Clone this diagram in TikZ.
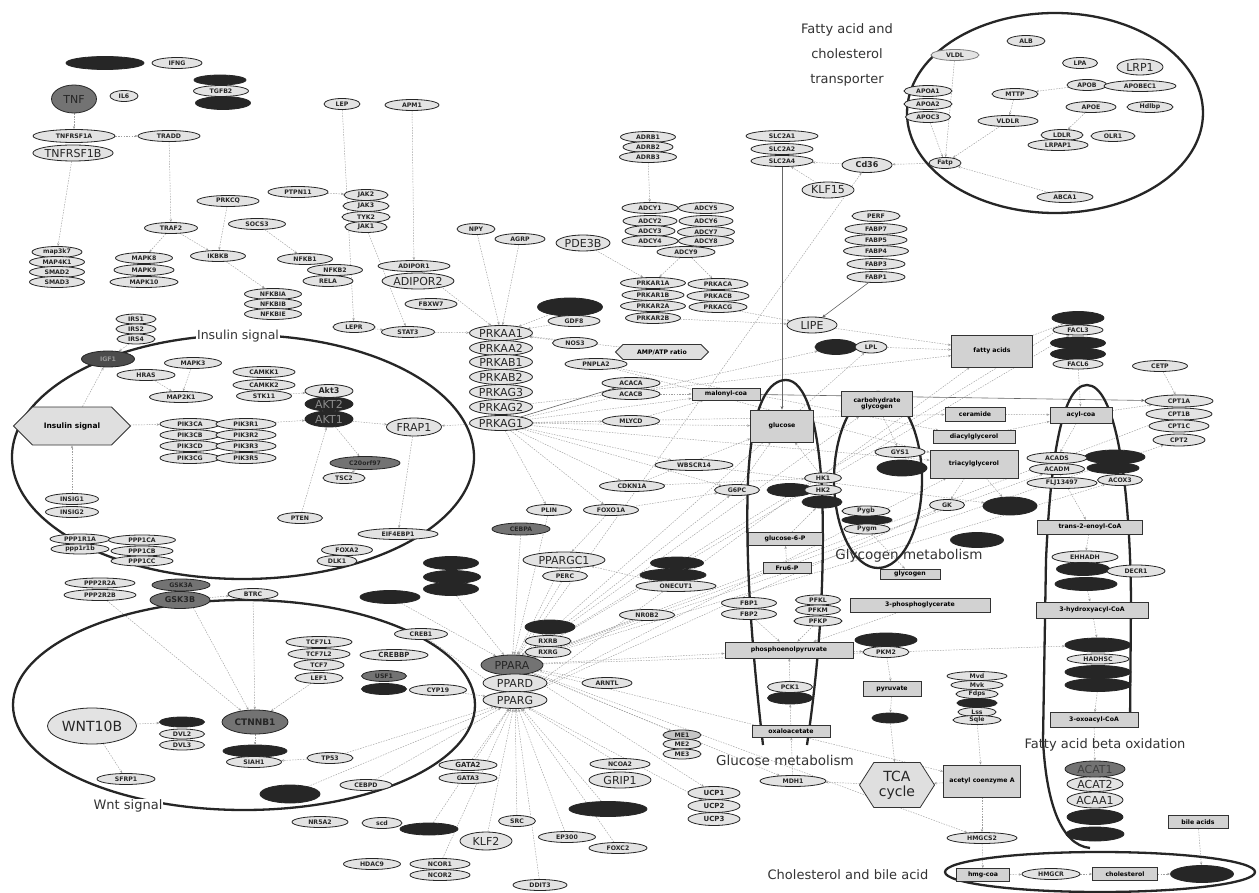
\documentclass[tikz,border=0pt]{standalone}
\usepackage{fontspec}
\setmainfont{DejaVu Sans}
\usetikzlibrary{shapes.geometric,shapes.symbols,arrows.meta}
\pgfdeclarelayer{background}
\pgfsetlayers{background,main}
\newcommand{\genefont}{\fontsize{6.2}{6.5}\selectfont\bfseries}
\newcommand{\bigfont}{\fontsize{11}{12}\selectfont}
\tikzset{
  gene/.style={ellipse, draw=black!85, line width=0.8pt, fill=gray!22, inner sep=0pt, minimum height=11pt, font=\genefont, text=black!85},
  bgene/.style={gene, minimum height=16pt, font=\bigfont},
  dgene/.style={gene, fill=black!85},
  mgene/.style={gene, fill=black!55},
  metab/.style={rectangle, draw=black!80, line width=0.8pt, fill=gray!35, inner sep=1pt, font=\genefont, align=center},
  hexa/.style={signal, signal to=east and west, draw=black!80, fill=gray!25, line width=0.8pt, inner sep=1pt}
}
\begin{document}
\begin{tikzpicture}[x=1pt, y=-1pt,
  link/.style={draw=gray!75, line width=0.45pt, dash pattern=on 1.5pt off 1.2pt, -{Stealth[length=3pt,width=2.4pt]}},
  slink/.style={draw=black!60, line width=0.6pt, -{Stealth[length=3.5pt,width=3pt]}},
  region/.style={draw=black!85, line width=2.3pt},
  rlabel/.style={font=\fontsize{13}{15}\selectfont, text=black!80, inner sep=1pt}
]
\useasboundingbox (0,0) rectangle (1259,893);

% cytokine and TNF part
\node[dgene, minimum width=78, minimum height=13] (dtop) at (105,63) {};
\node[gene, minimum width=50] (IFNG) at (177,63) {IFNG};
\node[mgene, minimum width=45, minimum height=28, font=\bigfont] (TNF) at (74,99) {TNF};
\node[gene, minimum width=28] (IL6) at (124,96) {IL6};
\node[dgene, minimum width=52, minimum height=10] (dtgfa) at (220,80) {};
\node[dgene, minimum width=55, minimum height=13] (dtgfb) at (223,103) {};
\node[gene, minimum width=55] (TGFB2) at (221,91) {TGFB2};
\node[gene, minimum width=82, minimum height=13] (TNFRSF1A) at (74,136) {TNFRSF1A};
\node[bgene, minimum width=80] (TNFRSF1B) at (73,153) {TNFRSF1B};
\node[gene, minimum width=62] (TRADD) at (169,136) {TRADD};
\node[gene, minimum width=60] (PTPN11) at (298,192) {PTPN11};
\node[gene, minimum width=62] (PRKCQ) at (228,201) {PRKCQ};
\node[gene, minimum width=57] (SOCS3) at (257,224) {SOCS3};
\node[gene, minimum width=53] (TRAF2) at (171,228) {TRAF2};
\node[gene, minimum width=55] (IKBKB) at (218,256) {IKBKB};
\node[gene, minimum width=55] (NFKB1) at (305,259) {NFKB1};
\node[gene, minimum width=55] (NFKB2) at (335,270) {NFKB2};
\node[gene, minimum width=50] (RELA) at (328,281) {RELA};
\foreach \n/\y/\w in {map3k7/252/50, MAP4K1/262/55, SMAD2/272/55, SMAD3/282/55}
  \node[gene, minimum width=\w] (\n) at (57,\y) {\n};
\foreach \n/\y/\w in {MAPK8/258/57, MAPK9/270/60, MAPK10/282/68}
  \node[gene, minimum width=\w] (\n) at (144,\y) {\n};
\foreach \n/\y in {NFKBIA/294, NFKBIB/304, NFKBIE/314}
  \node[gene, minimum width=57] (\n) at (273,\y) {\n};

% adipokines, receptors
\node[gene, minimum width=36] (LEP) at (342,104) {LEP};
\node[gene, minimum width=54] (APM1) at (412,105) {APM1};
\foreach \n/\y/\w in {JAK2/195/44, JAK3/206/46, TYK2/217/48, JAK1/227/42}
  \node[gene, minimum width=\w] (\n) at (366,\y) {\n};
\node[gene, minimum width=38] (NPY) at (476,229) {NPY};
\node[gene, minimum width=50] (AGRP) at (520,239) {AGRP};
\node[bgene, minimum width=54] (PDE3B) at (583,243) {PDE3B};
\node[gene, minimum width=72] (ADIPOR1) at (414,266) {ADIPOR1};
\node[bgene, minimum width=72] (ADIPOR2) at (418,281) {ADIPOR2};
\foreach \n/\y/\w in {ADRB1/137/55, ADRB2/147/50, ADRB3/157/57}
  \node[gene, minimum width=\w] (\n) at (648,\y) {\n};
\foreach \n/\y/\w in {SLC2A1/136/72, SLC2A2/149/62, SLC2A4/161/62}
  \node[gene, minimum width=\w] (\n) at (782,\y) {\n};
\node[gene, minimum width=50, minimum height=15, font=\fontsize{8}{8}\selectfont\bfseries] (Cd36) at (867,165) {Cd36};
\node[bgene, minimum width=52] (KLF15) at (828,190) {KLF15};
\node[gene, minimum width=32] (Fatp) at (945,163) {Fatp};
\foreach \n/\y/\w in {ADCY1/208/56, ADCY2/221/54, ADCY3/231/50, ADCY4/241/56}
  \node[gene, minimum width=\w] (\n) at (650,\y) {\n};
\foreach \n/\y/\w in {ADCY5/208/55, ADCY6/221/54, ADCY7/232/57, ADCY8/241/55}
  \node[gene, minimum width=\w] (\n) at (706,\y) {\n};
\node[gene, minimum width=58] (ADCY9) at (686,252) {ADCY9};
\foreach \n/\y/\w in {PRKAR1A/283/65, PRKAR1B/295/62, PRKAR2A/306/65, PRKAR2B/318/55}
  \node[gene, minimum width=\w] (\n) at (653,\y) {\n};
\foreach \n/\y/\w in {PRKACA/284/60, PRKACB/296/62, PRKACG/307/58}
  \node[gene, minimum width=\w] (\n) at (718,\y) {\n};
\foreach \n/\y/\w in {PERF/216/48, FABP7/229/62, FABP5/240/62, FABP4/251/65, FABP3/264/58, FABP1/277/58}
  \node[gene, minimum width=\w] (\n) at (876,\y) {\n};

% fatty acid and cholesterol transporter
\node[rlabel, align=center, font=\fontsize{13}{25}\selectfont] (ftlabel) at (847,55) {Fatty acid and\\cholesterol\\transporter};
\foreach \n/\y/\w in {APOA1/91/48, APOA2/104/48, APOC3/117/45}
  \node[gene, minimum width=\w] (\n) at (928,\y) {\n};
\node[gene, minimum width=48, draw=black!50] (VLDL) at (955,55) {VLDL};
\node[gene, minimum width=38] (ALB) at (1026,41) {ALB};
\node[gene, minimum width=35] (LPA) at (1080,63) {LPA};
\node[bgene, minimum width=46] (LRP1) at (1140,67) {LRP1};
\node[gene, minimum width=40] (APOB) at (1087,85) {APOB};
\node[gene, minimum width=72] (APOBEC1) at (1140,86) {APOBEC1};
\node[gene, minimum width=46] (MTTP) at (1015,94) {MTTP};
\node[gene, minimum width=50] (APOE) at (1091,107) {APOE};
\node[gene, minimum width=46] (Hdlbp) at (1150,107) {Hdlbp};
\node[gene, minimum width=60] (VLDLR) at (1008,121) {VLDLR};
\node[gene, minimum width=42] (LDLR) at (1062,135) {LDLR};
\node[gene, minimum width=60] (LRPAP1) at (1058,145) {LRPAP1};
\node[gene, minimum width=44] (OLR1) at (1113,136) {OLR1};
\node[gene, minimum width=56] (ABCA1) at (1065,197) {ABCA1};

% insulin signal
\node[rlabel, fill=white, font=\fontsize{12.5}{14}\selectfont] (inslabel) at (238,336) {Insulin signal};
\foreach \n/\y/\w in {IRS1/319/40, IRS2/329/40, IRS4/339/38}
  \node[gene, minimum width=\w, minimum height=10] (\n) at (136,\y) {\n};
\node[gene, fill=black!70, minimum width=53, minimum height=16, text=black!40] (IGF1) at (108,359) {IGF1};
\node[gene, minimum width=57] (MAPK3) at (193,363) {MAPK3};
\node[gene, minimum width=58] (HRAS) at (146,375) {HRAS};
\node[gene, minimum width=63] (MAP2K1) at (181,397) {MAP2K1};
\foreach \n/\y/\w in {CAMKK1/372/62, CAMKK2/385/62, STK11/396/55}
  \node[gene, minimum width=\w] (\n) at (264,\y) {\n};
\node[hexa, minimum width=117, minimum height=38, font=\fontsize{7.5}{8}\selectfont\bfseries] (insulin) at (72,426) {Insulin signal};
\foreach \n/\y in {PIK3CA/424, PIK3CB/435, PIK3CD/446, PIK3CG/458}
  \node[gene, minimum width=60] (\n) at (190,\y) {\n};
\foreach \n/\y in {PIK3R1/424, PIK3R2/435, PIK3R3/446, PIK3R5/458}
  \node[gene, minimum width=60] (\n) at (246,\y) {\n};
\node[dgene, minimum width=48, minimum height=16, font=\bigfont, text=black!45] (akt1) at (329,419) {AKT1};
\node[dgene, minimum width=48, minimum height=14, font=\bigfont, text=black!45] (akt2) at (329,404) {AKT2};
\node[gene, minimum width=48, minimum height=13, font=\fontsize{8}{8}\selectfont\bfseries] (Akt3) at (329,391) {Akt3};
\node[bgene, minimum width=55, minimum height=18] (FRAP1) at (414,427) {FRAP1};
\node[mgene, minimum width=70, minimum height=13] (C20orf97) at (365,463) {C20orf97};
\node[gene, minimum width=42] (TSC2) at (344,478) {TSC2};
\node[gene, minimum width=53] (INSIG1) at (72,499) {INSIG1};
\node[gene, minimum width=53] (INSIG2) at (72,512) {INSIG2};
\node[gene, minimum width=60, minimum height=10] (PPP1R1A) at (80,539) {PPP1R1A};
\node[gene, minimum width=58, minimum height=10] (ppp1r1b) at (80,549) {ppp1r1b};
\foreach \n/\y/\w in {PPP1CA/540/67, PPP1CB/551/62, PPP1CC/561/62}
  \node[gene, minimum width=\w, minimum height=10] (\n) at (142,\y) {\n};
\node[gene, minimum width=45] (PTEN) at (300,518) {PTEN};
\node[gene, minimum width=80] (EIF4EBP1) at (398,534) {EIF4EBP1};
\node[gene, minimum width=51] (FOXA2) at (347,550) {FOXA2};
\node[gene, minimum width=40] (DLK1) at (337,561) {DLK1};
\node[dgene, minimum width=55, minimum height=13] (dst1) at (451,563) {};
\node[dgene, minimum width=57, minimum height=13] (dst2) at (452,577) {};
\node[dgene, minimum width=55, minimum height=13] (dst3) at (451,589) {};
\node[gene, minimum width=70, minimum height=10] (PPP2R2A) at (100,583) {PPP2R2A};
\node[gene, minimum width=72, minimum height=11] (PPP2R2B) at (100,595) {PPP2R2B};
\node[mgene, minimum width=58, minimum height=12] (GSK3A) at (181,585) {GSK3A};
\node[mgene, minimum width=60, minimum height=17, font=\fontsize{8}{8}\selectfont\bfseries] (GSK3B) at (180,600) {GSK3B};
\node[gene, minimum width=50] (BTRC) at (253,594) {BTRC};
\node[dgene, minimum width=60, minimum height=13] (dwnt) at (390,597) {};

% wnt signal
\node[rlabel, fill=white] (wntlabel) at (128,806) {Wnt signal};
\foreach \n/\y/\w in {TCF7L1/642/66, TCF7L2/654/62, TCF7/665/50, LEF1/678/48}
  \node[gene, minimum width=\w] (\n) at (319,\y) {\n};
\node[gene, minimum width=53] (CREB1) at (421,634) {CREB1};
\node[gene, minimum width=68, font=\fontsize{7}{7}\selectfont\bfseries] (CREBBP) at (394,655) {CREBBP};
\node[dgene, minimum width=45] (dusf) at (384,689) {};
\node[mgene, minimum width=45] (USF1) at (384,676) {USF1};
\node[gene, minimum width=57] (CYP19) at (438,690) {CYP19};
\node[mgene, minimum width=66, minimum height=24, font=\fontsize{9}{9}\selectfont\bfseries] (CTNNB1) at (255,722) {CTNNB1};
\node[dgene, minimum width=64, minimum height=12] (dsiah) at (255,751) {};
\node[gene, minimum width=55] (SIAH1) at (254,762) {SIAH1};
\node[gene, minimum width=89, minimum height=36, font=\fontsize{14}{15}\selectfont] (WNT10B) at (92,726) {WNT10B};
\node[dgene, minimum width=45, minimum height=10] (dvl1) at (182,722) {};
\node[gene, minimum width=45, minimum height=10] (DVL2) at (182,734) {DVL2};
\node[gene, minimum width=45, minimum height=10] (DVL3) at (182,745) {DVL3};
\node[gene, minimum width=58] (SFRP1) at (126,779) {SFRP1};
\node[gene, minimum width=46] (TP53) at (330,758) {TP53};
\node[dgene, minimum width=60, minimum height=18] (dtp) at (290,794) {};
\node[gene, minimum width=56] (NR5A2) at (320,822) {NR5A2};
\node[gene, minimum width=52] (CEBPD) at (366,785) {CEBPD};
\node[gene, minimum width=40] (scd) at (382,823) {scd};
\node[dgene, minimum width=58, minimum height=12] (dscd) at (429,829) {};
\node[gene, minimum width=57] (HDAC9) at (372,864) {HDAC9};
\node[gene, minimum width=60] (NCOR1) at (440,864) {NCOR1};
\node[gene, minimum width=60] (NCOR2) at (440,875) {NCOR2};
\node[bgene, minimum width=52, minimum height=18] (KLF2) at (486,841) {KLF2};
\node[gene, minimum width=37] (SRC) at (517,821) {SRC};
\node[gene, minimum width=57] (EP300) at (567,837) {EP300};
\node[gene, minimum width=58] (FOXC2) at (618,848) {FOXC2};
\node[gene, minimum width=54] (DDIT3) at (540,885) {DDIT3};
\node[gene, minimum width=58, font=\fontsize{7}{7}\selectfont\bfseries] (GATA2) at (468,765) {GATA2};
\node[gene, minimum width=58] (GATA3) at (468,778) {GATA3};
\node[gene, minimum width=60] (NCOA2) at (620,764) {NCOA2};
\node[bgene, minimum width=62] (GRIP1) at (620,780) {GRIP1};
\node[dgene, minimum width=78, minimum height=15] (dgrip) at (608,809) {};

% PPAR and AMPK
\node[dgene, minimum width=50, minimum height=14] (RXRA) at (550,627) {};
\node[gene, minimum width=46] (RXRB) at (548,641) {RXRB};
\node[gene, minimum width=46] (RXRG) at (548,652) {RXRG};
\node[mgene, minimum width=62, minimum height=20, font=\bigfont] (PPARA) at (512,665) {PPARA};
\node[bgene, minimum width=64, minimum height=18] (PPARD) at (515,683) {PPARD};
\node[bgene, minimum width=64, minimum height=17] (PPARG) at (515,700) {PPARG};
\node[gene, minimum width=50] (ARNTL) at (607,683) {ARNTL};
\node[gene, minimum width=45] (PLIN) at (549,510) {PLIN};
\node[mgene, minimum width=58, minimum height=12] (CEBPA) at (521,529) {CEBPA};
\node[gene, minimum width=55] (FOXO1A) at (611,510) {FOXO1A};
\node[gene, minimum width=65] (CDKN1A) at (632,486) {CDKN1A};
\node[bgene, minimum width=82] (PPARGC1) at (564,560) {PPARGC1};
\node[gene, minimum width=45] (PERC) at (565,576) {PERC};
\node[dgene, minimum width=65, minimum height=18] (dprk) at (570,307) {};
\node[gene, minimum width=52] (GDF8) at (574,321) {GDF8};
\node[gene, minimum width=45] (NOS3) at (575,343) {NOS3};
\node[gene, minimum width=62] (PNPLA2) at (596,364) {PNPLA2};
\node[gene, minimum width=42] (LEPR) at (354,327) {LEPR};
\node[gene, minimum width=53] (STAT3) at (408,332) {STAT3};
\node[gene, minimum width=52] (FBXW7) at (431,304) {FBXW7};
\foreach \n/\y in {PRKAA1/333, PRKAA2/348, PRKAB1/362, PRKAB2/377, PRKAG3/392, PRKAG2/407, PRKAG1/423}
  \node[bgene, minimum width=63, minimum height=15] (\n) at (501,\y) {\n};
\node[hexa, minimum width=93, minimum height=15, font=\genefont] (ampatp) at (662,352) {AMP/ATP ratio};
\node[gene, minimum width=58] (ACACA) at (631,383) {ACACA};
\node[gene, minimum width=58] (ACACB) at (631,394) {ACACB};
\node[gene, minimum width=57] (MLYCD) at (631,421) {MLYCD};
\node[metab, minimum width=68, minimum height=12] (malonyl) at (726,394) {malonyl-coa};
\node[gene, minimum width=78] (WBSCR14) at (694,465) {WBSCR14};

% glucose and glycogen metabolism
\node[metab, minimum width=63, minimum height=32] (glc) at (782,426) {glucose};
\node[metab, minimum width=71, minimum height=25] (carbglyc) at (877,404) {carbohydrate\\glycogen};
\node[gene, minimum width=45] (G6PC) at (737,490) {G6PC};
\node[dgene, minimum width=46, minimum height=13] (dg6) at (790,490) {};
\node[dgene, minimum width=40, minimum height=12] (dhk) at (822,502) {};
\node[gene, minimum width=37, minimum height=10] (HK1) at (823,478) {HK1};
\node[gene, minimum width=37, minimum height=10] (HK2) at (823,490) {HK2};
\node[gene, minimum width=50] (GYS1) at (900,452) {GYS1};
\node[dgene, minimum width=50, minimum height=16] (dgys) at (902,468) {};
\node[dgene, minimum width=50, minimum height=9] (dpyg) at (867,520) {};
\node[gene, minimum width=48, minimum height=10] (Pygb) at (866,511) {Pygb};
\node[gene, minimum width=46, minimum height=10] (Pygm) at (867,529) {Pygm};
\node[metab, minimum width=74, minimum height=13] (g6p) at (785,539) {glucose-6-P};
\node[rlabel, font=\fontsize{13.5}{15}\selectfont] (glylabel) at (909,556) {Glycogen metabolism};
\node[metab, minimum width=60, minimum height=10] (glycogen) at (910,574) {glycogen};
\node[metab, minimum width=48, minimum height=11] (f6p) at (787,568) {Fru6-P};
\node[dgene, minimum width=53, minimum height=12] (don1) at (677,563) {};
\node[dgene, minimum width=66, minimum height=12] (don2) at (673,575) {};
\node[gene, minimum width=80] (ONECUT1) at (676,586) {ONECUT1};
\node[gene, minimum width=55] (NR0B2) at (647,615) {NR0B2};
\node[gene, minimum width=55] (FBP1) at (749,603) {FBP1};
\node[gene, minimum width=55] (FBP2) at (749,614) {FBP2};
\foreach \n/\y/\w in {PFKL/600/45, PFKM/610/45, PFKP/621/48}
  \node[gene, minimum width=\w, minimum height=10] (\n) at (818,\y) {\n};
\node[metab, minimum width=140, minimum height=14] (pg3) at (920,605) {3-phosphoglycerate};
\node[metab, minimum width=128, minimum height=16] (pep) at (789,650) {phosphoenolpyruvate};
\node[dgene, minimum width=62, minimum height=14] (dpkm) at (886,640) {};
\node[gene, minimum width=46] (PKM2) at (886,652) {PKM2};
\node[dgene, minimum width=45, minimum height=12] (dpck) at (790,698) {};
\node[gene, minimum width=45] (PCK1) at (790,687) {PCK1};
\node[metab, minimum width=58, minimum height=15] (pyr) at (892,689) {pyruvate};
\node[dgene, minimum width=36, minimum height=10] (dpdh) at (890,718) {};
\node[metab, minimum width=78, minimum height=12] (oaa) at (791,731) {oxaloacetate};
\node[gene, fill=gray!45, minimum width=38, minimum height=10] (ME1) at (682,735) {ME1};
\node[gene, minimum width=38, minimum height=10] (ME2) at (682,744) {ME2};
\node[gene, minimum width=38, minimum height=10] (ME3) at (682,754) {ME3};
\node[rlabel, font=\fontsize{13.5}{15}\selectfont] (glclabel) at (785,760) {Glucose metabolism};
\node[gene, minimum width=66] (MDH1) at (793,781) {MDH1};
\node[hexa, signal pointer angle=115, minimum width=75, minimum height=45, font=\fontsize{14}{15}\selectfont, align=center, text=black!85] (tca) at (897,785) {TCA\\cycle};
\foreach \n/\y in {UCP1/793, UCP2/806, UCP3/819}
  \node[gene, minimum width=52, minimum height=13, font=\fontsize{7}{7}\selectfont\bfseries] (\n) at (714,\y) {\n};

% lipid metabolism
\node[bgene, minimum width=50] (LIPE) at (812,325) {LIPE};
\node[dgene, minimum width=42, minimum height=15] (dlpl) at (836,347) {};
\node[gene, minimum width=32, minimum height=12] (LPL) at (871,347) {LPL};
\node[metab, minimum width=81, minimum height=32] (fa) at (992,351) {fatty acids};
\node[dgene, minimum width=52, minimum height=13] (dfa1) at (1078,318) {};
\node[dgene, minimum width=55, minimum height=12] (dfa2) at (1078,343) {};
\node[dgene, minimum width=55, minimum height=12] (dfa3) at (1078,354) {};
\node[gene, minimum width=50, minimum height=10] (FACL3) at (1078,330) {FACL3};
\node[gene, minimum width=50, minimum height=10] (FACL6) at (1078,364) {FACL6};
\node[gene, minimum width=55] (CETP) at (1160,366) {CETP};
\foreach \n/\y/\w in {CPT1A/401/68, CPT1B/414/66, CPT1C/426/60, CPT2/440/52}
  \node[gene, minimum width=\w, minimum height=12] (\n) at (1179,\y) {\n};
\node[metab, minimum width=60, minimum height=14] (cer) at (975,414) {ceramide};
\node[metab, minimum width=82, minimum height=13] (dag) at (974,437) {diacylglycerol};
\node[metab, minimum width=88, minimum height=28] (tag) at (974,464) {triacylglycerol};
\node[metab, minimum width=62, minimum height=16] (acylcoa) at (1081,415) {acyl-coa};
\node[dgene, minimum width=60, minimum height=14] (dacox1) at (1115,457) {};
\node[dgene, minimum width=52, minimum height=11] (dacox2) at (1113,468) {};
\node[gene, minimum width=45] (ACOX3) at (1120,480) {ACOX3};
\node[gene, minimum width=60] (ACADS) at (1057,458) {ACADS};
\node[gene, minimum width=55] (ACADM) at (1057,469) {ACADM};
\node[gene, minimum width=70] (FLJ13497) at (1062,483) {FLJ13497};
\node[gene, minimum width=35] (GK) at (947,505) {GK};
\node[dgene, minimum width=54, minimum height=18] (dgk) at (1010,506) {};
\node[dgene, minimum width=53, minimum height=15] (dtg) at (977,540) {};
\node[metab, minimum width=105, minimum height=14] (enoyl) at (1090,527) {trans-2-enoyl-CoA};
\node[gene, minimum width=66, minimum height=12] (EHHADH) at (1085,557) {EHHADH};
\node[dgene, minimum width=53, minimum height=13] (dhad1) at (1083,569) {};
\node[dgene, minimum width=62, minimum height=13] (dhad2) at (1086,584) {};
\node[gene, minimum width=58, minimum height=12] (DECR1) at (1136,571) {DECR1};
\node[metab, minimum width=112, minimum height=16] (hydroxy) at (1092,610) {3-hydroxyacyl-CoA};
\node[dgene, minimum width=66, minimum height=14] (dox1) at (1098,645) {};
\node[dgene, minimum width=66, minimum height=13] (dox3) at (1098,672) {};
\node[dgene, minimum width=66, minimum height=13] (dox4) at (1098,685) {};
\node[gene, minimum width=62, minimum height=10] (HADHSC) at (1098,659) {HADHSC};
\node[metab, minimum width=88, minimum height=15] (oxoacyl) at (1094,720) {3-oxoacyl-CoA};
\node[rlabel] (betalabel) at (1105,745) {Fatty acid beta oxidation};
\node[dgene, minimum width=58, minimum height=14] (dacat5) at (1095,834) {};
\node[dgene, minimum width=56, minimum height=15] (dacat4) at (1095,817) {};
\node[bgene, minimum width=56] (ACAA1) at (1095,800) {ACAA1};
\node[bgene, minimum width=56, minimum height=15] (ACAT2) at (1095,784) {ACAT2};
\node[mgene, minimum width=60, minimum height=16, font=\bigfont, text=black!75] (ACAT1) at (1095,769) {ACAT1};
\foreach \n/\y/\w in {Mvd/676/60, Mvk/685/52, Fdps/694/42}
  \node[gene, minimum width=\w, minimum height=9] (\n) at (977,\y) {\n};
\node[dgene, minimum width=40, minimum height=9] (dmvd) at (977,703) {};
\node[gene, minimum width=38, minimum height=9] (Lss) at (977,712) {Lss};
\node[gene, minimum width=48, minimum height=9] (Sqle) at (977,720) {Sqle};
\node[metab, minimum width=77, minimum height=32] (acetyl) at (982,781) {acetyl coenzyme A};
\node[gene, minimum width=70] (HMGCS2) at (982,838) {HMGCS2};

% cholesterol and bile acid
\node[metab, minimum width=60, minimum height=13] (bile) at (1198,822) {bile acids};
\node[rlabel] (chollabel) at (848,875) {Cholesterol and bile acid};
\node[metab, minimum width=53, minimum height=13] (hmgcoa) at (983,875) {hmg-coa};
\node[gene, minimum width=58] (HMGCR) at (1051,874) {HMGCR};
\node[metab, minimum width=65, minimum height=13] (chol) at (1125,874) {cholesterol};
\node[dgene, minimum width=63, minimum height=17] (dchol) at (1202,874) {};

\begin{pgfonlayer}{background}
\fill[white] (0,0) rectangle (1259,893);
\foreach \a/\b in {TNF/TNFRSF1A, TNFRSF1A/TRADD, TRADD/TRAF2, TNFRSF1B/map3k7, TRAF2/MAPK8,
  TRAF2/IKBKB, PRKCQ/IKBKB, IKBKB/NFKBIA, SOCS3/NFKB1, PTPN11/JAK2, LEP/LEPR, APM1/ADIPOR1,
  LEPR/STAT3, JAK1/STAT3, ADIPOR1/PRKAA1, NPY/PRKAA1, AGRP/PRKAA1, PDE3B/PRKAR1A, ADRB3/ADCY1,
  ADCY9/PRKAR1A, ADCY9/PRKACA, PRKAR2B/LIPE, PRKACG/LIPE, KLF15/SLC2A4, Cd36/SLC2A4, Fatp/Cd36,
  APOC3/Fatp, VLDL/Fatp, VLDLR/Fatp, MTTP/VLDLR, APOE/LDLR, ABCA1/Fatp, APOB/MTTP, dlpl/LPL, LPL/fa,
  LIPE/fa, fa/dfa1, FACL6/acylcoa, acylcoa/CPT1A, CETP/CPT1A, acylcoa/ACADS, cer/acylcoa,
  dag/acylcoa, ACACB/malonyl, MLYCD/malonyl, ACADM/enoyl, enoyl/EHHADH, dhad2/hydroxy,
  hydroxy/dox1, dox4/oxoacyl, oxoacyl/ACAT1, acetyl/tca, acetyl/HMGCS2, HMGCS2/hmgcoa,
  hmgcoa/HMGCR, HMGCR/chol, chol/dchol, bile/dchol, Sqle/acetyl, tca/MDH1, MDH1/oaa, oaa/dpck,
  PCK1/pep, pep/PKM2, PKM2/pyr, pyr/dpdh, dpdh/tca, pg3/pep, PFKP/pep, FBP2/pep, f6p/g6p, g6p/dhk,
  G6PC/glc, HK1/glc, carbglyc/GYS1, Pygm/glycogen, insulin/IGF1, IRS4/IGF1,
  INSIG1/insulin, insulin/PIK3CA, PIK3R1/akt1, akt1/FRAP1, akt1/C20orf97, C20orf97/TSC2,
  STK11/Akt3, HRAS/MAP2K1, MAPK3/MAP2K1, FRAP1/EIF4EBP1, PTEN/akt1, GSK3B/BTRC, BTRC/CTNNB1,
  CTNNB1/dsiah, LEF1/CTNNB1, WNT10B/dvl1, WNT10B/SFRP1, TP53/SIAH1, PPP2R2B/CTNNB1, GSK3A/CTNNB1,
  CREB1/PPARG, CYP19/PPARG, GATA2/PPARG, KLF2/PPARG, SRC/PPARG, EP300/PPARG, DDIT3/PPARG,
  NCOA2/PPARG, FOXC2/PPARG, NCOR1/PPARG, CEBPD/PPARG, dscd/PPARG, dgrip/PPARG, dtp/PPARG,
  TP53/PPARG, ARNTL/PPARA, RXRA/PPARA, PPARGC1/PPARA, PERC/PPARA, dst3/PPARA, FOXO1A/PPARGC1,
  CEBPA/PPARA, PLIN/PPARA, ONECUT1/PPARGC1, NR0B2/PPARA, dwnt/PPARA, PRKAG1/MLYCD,
  PRKAG1/WBSCR14, PRKAG1/CDKN1A, PRKAG1/PLIN, PRKAG1/FOXO1A, PRKAG1/G6PC, PRKAG1/glc,
  PRKAG1/FRAP1, ampatp/PRKAA1, NOS3/PRKAA1, PNPLA2/tag, tag/GK, tag/dgk, PPARA/UCP1, PPARA/ME1,
  PPARA/MDH1, PPARA/CPT2, PPARA/ACADM, PPARA/HMGCS2, PPARA/acetyl, PPARA/pep, PPARA/G6PC,
  PPARA/LPL, PPARA/Cd36, PPARG/fa, PPARA/dfa1, PPARG/tag, PPARG/UCP2, WBSCR14/dgk, CDKN1A/glc,
  PRKAG1/dlpl, PRKAG1/malonyl, STAT3/PRKAA1, dprk/PRKAA1, GDF8/PRKAA1, PNPLA2/dag,
  PPARA/FACL3, PPARA/CPT1B, PPARA/ACOX3, PPARA/dox1, PPARG/GK, PPARA/carbglyc, PRKAG2/fa,
  PRKAG1/tag, PRKAG1/cer, FOXO1A/G6PC, CDKN1A/HK1}
  \draw[link] (\a) -- (\b);
\draw[slink] (FABP1) -- (LIPE);
\draw[slink] (malonyl) -- (CPT1A);
\draw[slink] (PRKAG1) -- (ACACA);
\draw[slink] (SLC2A4) -- (glc);
\draw[region] (1055,113) ellipse [x radius=148, y radius=100];
\draw[region] (243,457) ellipse [x radius=231, y radius=122];
\draw[region] (244,705) ellipse [x radius=231, y radius=105];
\draw[region] (878,480) ellipse [x radius=44, y radius=88];
\draw[region] (1100,872) ellipse [x radius=155, y radius=20];
\draw[region] (763,745) .. controls (752,650) and (745,560) .. (748,480)
  .. controls (752,400) and (770,380) .. (786,380)
  .. controls (805,380) and (818,420) .. (822,490)
  .. controls (826,600) and (815,690) .. (807,745);
\draw[region] (1130,725) -- (1131,600) .. controls (1130,480) and (1115,385) .. (1087,385)
  .. controls (1060,385) and (1050,470) .. (1046,560) -- (1043,740)
  .. controls (1046,800) and (1060,845) .. (1090,848);
\end{pgfonlayer}
\end{tikzpicture}
\end{document}
